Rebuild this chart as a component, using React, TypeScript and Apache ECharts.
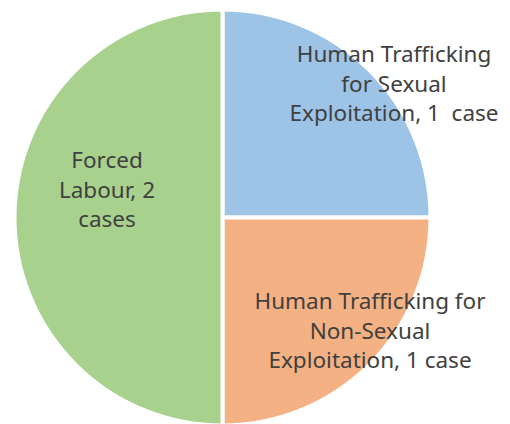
import React, { useEffect, useRef } from "react";
import * as echarts from "echarts";

const categories = [
  "Human Trafficking\nfor Sexual\nExploitation, 1  case",
  "Human Trafficking for\nNon-Sexual\nExploitation, 1 case",
  "Forced\nLabour, 2\ncases",
];
const values = [1, 1, 2];
const colors = ["#9DC3E6", "#F4B183", "#A9D18E"];
const labelPos = [
  [394, 83],
  [370, 330],
  [107, 189],
];

export default function App() {
  const ref = useRef<HTMLDivElement>(null);
  useEffect(() => {
    const chart = echarts.init(ref.current!, null, { renderer: "svg" });
    chart.setOption({
      animation: false,
      series: [
        {
          type: "pie",
          center: [222.5, 217.5],
          radius: 208,
          startAngle: 90,
          clockwise: true,
          data: categories.map((c, i) => ({
            name: c,
            value: values[i],
            itemStyle: { color: colors[i] },
          })),
          itemStyle: { borderColor: "#fff", borderWidth: 4 },
          label: {
            show: true,
            position: "inside",
            formatter: "{b}",
            color: "#404040",
            fontFamily: "Noto Sans",
            fontSize: 22.5,
            lineHeight: 29.5,
            align: "center",
          },
          labelLine: { show: false },
          labelLayout: (p: any) => ({
            x: labelPos[p.dataIndex][0],
            y: labelPos[p.dataIndex][1],
            align: "center",
            verticalAlign: "middle",
          }),
          emphasis: { disabled: true },
        },
      ],
    });
    return () => chart.dispose();
  }, []);
  return (
    <div
      ref={ref}
      style={{ width: 510, height: 424, position: "absolute", left: 0, top: 0 }}
    />
  );
}
